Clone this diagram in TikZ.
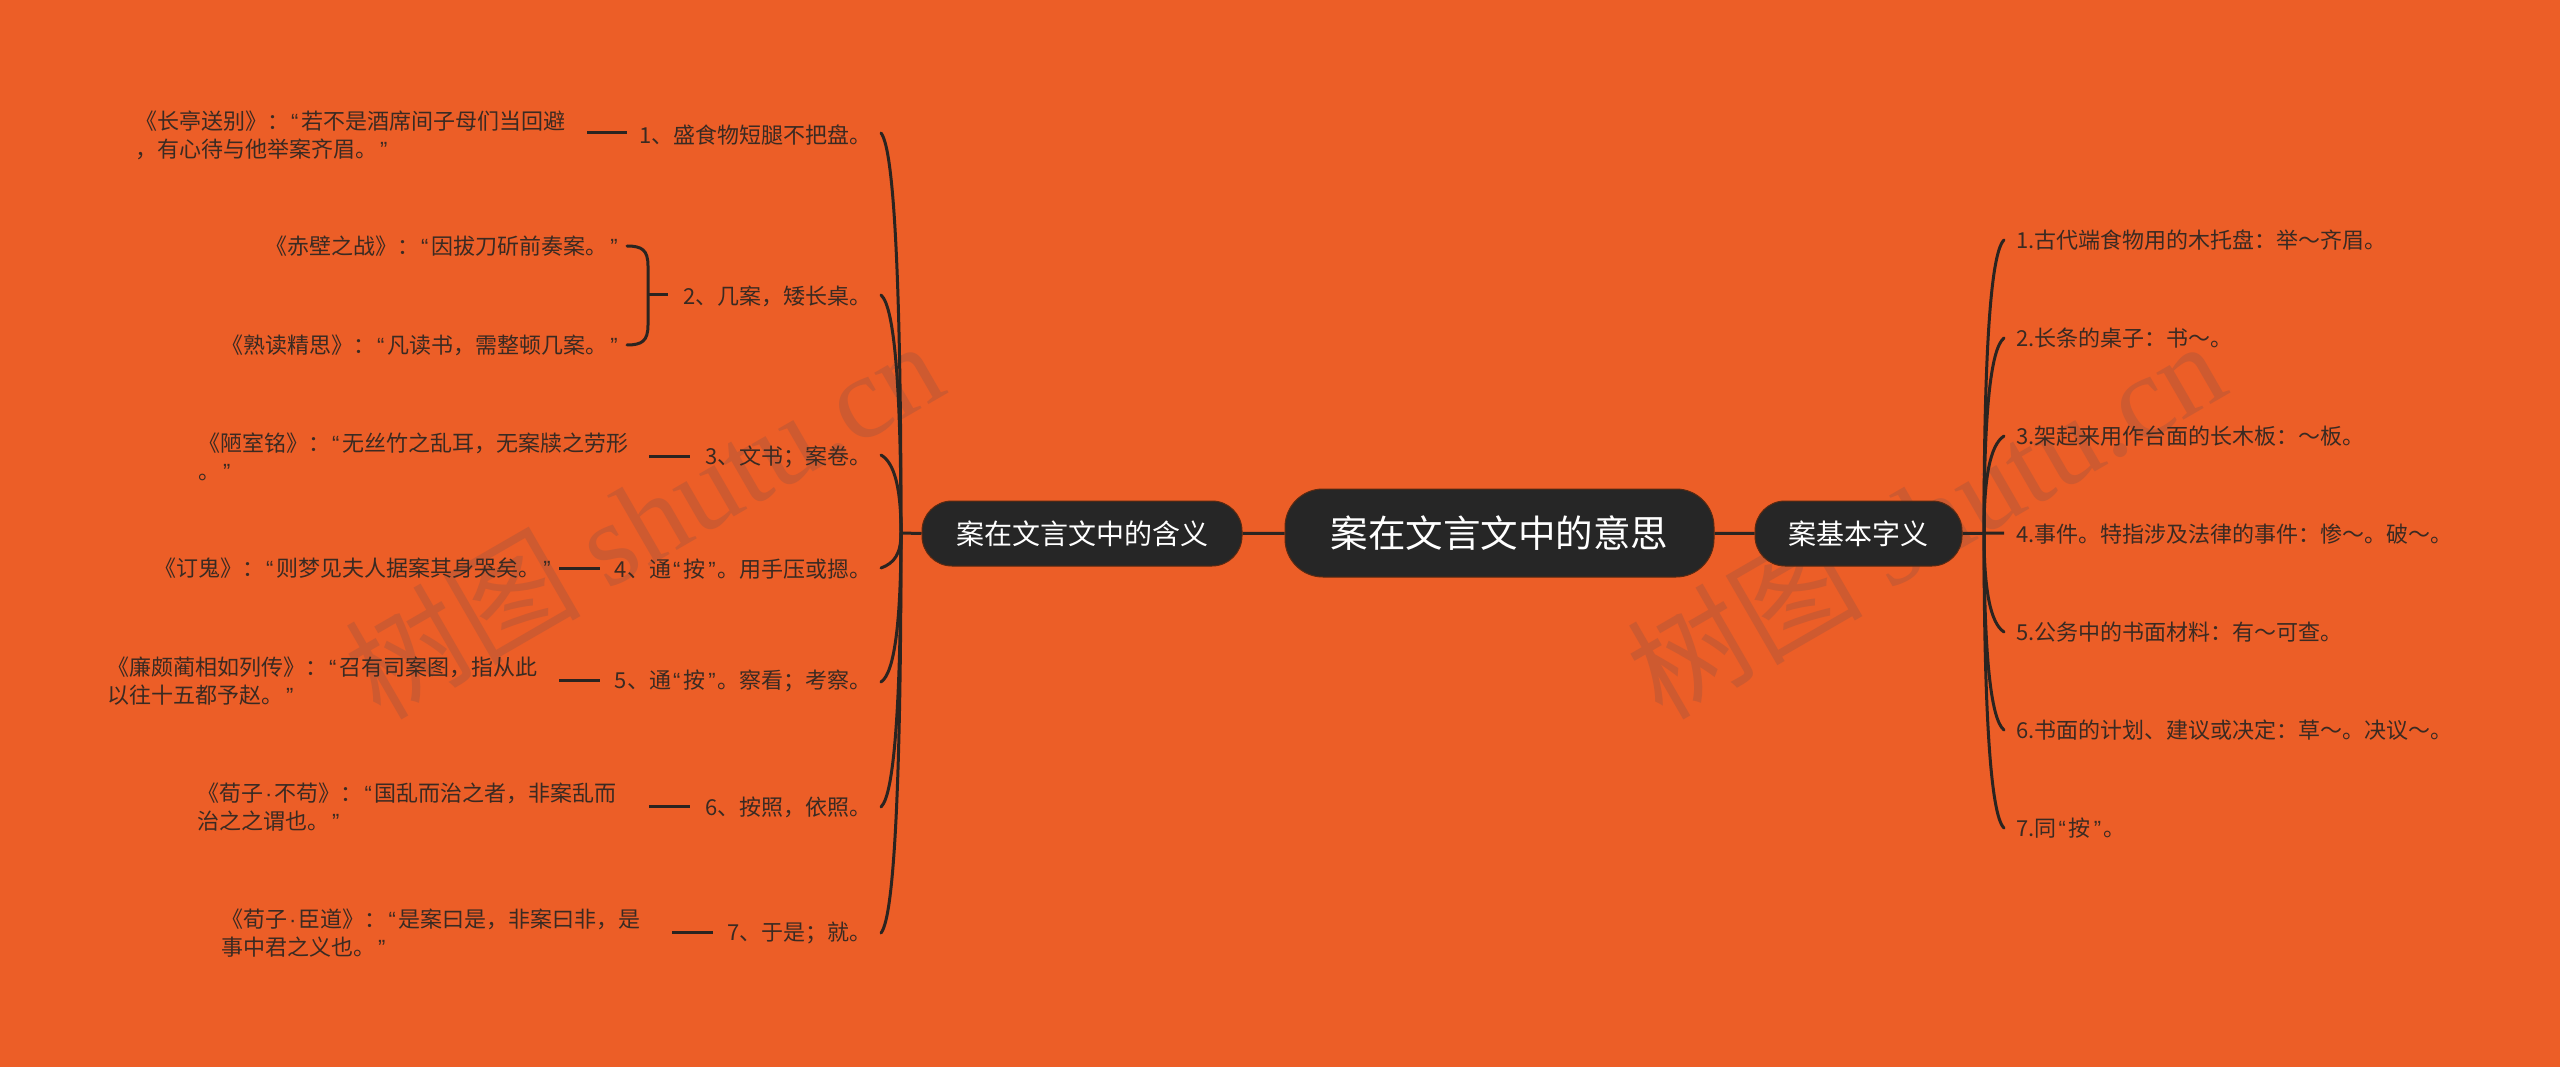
\documentclass[tikz,border=0pt]{standalone}
\usepackage{fontspec}
\setmainfont{Noto Sans CJK SC}
\newfontfamily\wmlatin{Liberation Serif}
\newfontfamily\punctfont{Liberation Sans}
\newcommand{\oq}{{\punctfont\kern2pt “\kern3pt}}
\newcommand{\cq}{{\punctfont\kern3pt ”\kern2pt}}
\newcommand{\mdot}{{\punctfont\kern2pt ·\kern2pt}}
\definecolor{bgc}{HTML}{EC5E27}
\definecolor{linec}{HTML}{2B2420}
\definecolor{txtc}{HTML}{3A2A22}
\definecolor{nodec}{HTML}{262626}
\definecolor{edgec}{HTML}{5A2A12}
\definecolor{wmc}{HTML}{CE5A30}
\tikzset{
  txt/.style={inner sep=0pt,text=txtc,align=left,font=\fontsize{22}{28}\selectfont},
  lnk/.style={draw=linec,line width=3pt,line cap=butt},
  curvelnk/.style={draw=linec,line width=3pt,line cap=round},
  pill/.style={fill=nodec,draw=edgec,line width=1pt,text=white,inner sep=0pt,align=center},
  wm/.style={text=wmc,inner sep=0pt,rotate=30}
}
\begin{document}
\begin{tikzpicture}[x=1pt,y=-1pt]
\useasboundingbox (0,0) rectangle (2560,1067);
\fill[bgc] (0,0) rectangle (2560,1067);
% watermarks
\node[wm] (wmL) at (643,518) {\fontsize{118}{118}\selectfont 树图 {\wmlatin shutu.cn}};
\node[wm] (wmR) at (1925,518) {\fontsize{118}{118}\selectfont 树图 {\wmlatin shutu.cn}};
% hubs and ends
\coordinate (LH) at (901,533);
\coordinate (RH) at (1984,533);
\foreach \n/\y in {1/133,2/295,3/455,4/568,5/682,6/807,7/933} \coordinate (L\n) at (881,\y);
\foreach \n/\y in {1/240,2/338,3/436,5/632,6/730,7/828} \coordinate (R\n) at (2004,\y);
\coordinate (R4) at (2004,533);
% central nodes
\node[pill,minimum width=429pt,minimum height=88pt,rounded corners=38pt,font=\fontsize{37.5}{40}\selectfont] (root) at (1499.5,533) {案在文言文中的意思};
\node[pill,minimum width=320pt,minimum height=65pt,rounded corners=30pt,font=\fontsize{28}{32}\selectfont] (lnode) at (1082,533.5) {案在文言文中的含义};
\node[pill,minimum width=207pt,minimum height=65pt,rounded corners=30pt,font=\fontsize{28}{32}\selectfont] (rnode) at (1858.5,533.5) {案基本字义};
\draw[lnk] (lnode) -- (root);
\draw[lnk] (root) -- (rnode);
\draw[lnk] (lnode.west) -- (LH);
\draw[lnk] (rnode.east) -- (R4);
% left curves
\draw[curvelnk] (L1) .. controls +(14,17) and +(0,-233) .. (LH);
\draw[curvelnk] (L2) .. controls +(14,12) and +(0,-140) .. (LH);
\draw[curvelnk] (L3) .. controls +(14,8) and +(0,-43) .. (LH);
\draw[curvelnk] (L4) .. controls +(14,-5) and +(0,20) .. (LH);
\draw[curvelnk] (L5) .. controls +(14,-9) and +(0,85) .. (LH);
\draw[curvelnk] (L6) .. controls +(14,-13) and +(0,160) .. (LH);
\draw[curvelnk] (L7) .. controls +(14,-17) and +(0,233) .. (LH);
% right curves
\draw[curvelnk] (R1) .. controls +(-14,13) and +(0,-170) .. (RH);
\draw[curvelnk] (R2) .. controls +(-14,11) and +(0,-115) .. (RH);
\draw[curvelnk] (R3) .. controls +(-14,9) and +(0,-55) .. (RH);
\draw[curvelnk] (R5) .. controls +(-14,-9) and +(0,55) .. (RH);
\draw[curvelnk] (R6) .. controls +(-14,-11) and +(0,115) .. (RH);
\draw[curvelnk] (R7) .. controls +(-14,-13) and +(0,170) .. (RH);
% left items
\node[txt,anchor=east] (i1) at (872,135) {1、盛食物短腿不把盘。};
\node[txt,anchor=east] (i2) at (872,296) {2、几案，矮长桌。};
\node[txt,anchor=east] (i3) at (872,457) {3、文书；案卷。};
\node[txt,anchor=east] (i4) at (872,569) {4、通\oq 按\cq。用手压或摁。};
\node[txt,anchor=east] (i5) at (872,681) {5、通\oq 按\cq。察看；考察。};
\node[txt,anchor=east] (i6) at (872,807) {6、按照，依照。};
\node[txt,anchor=east] (i7) at (872,933) {7、于是；就。};
% quotes
\node[txt,anchor=west] (q1) at (135,135) {《长亭送别》：\oq 若不是酒席间子母们当回避\\，有心待与他举案齐眉。\cq};
\node[txt,anchor=east] (q2a) at (620,246) {《赤壁之战》：\oq 因拔刀斫前奏案。\cq};
\node[txt,anchor=east] (q2b) at (620,345) {《熟读精思》：\oq 凡读书，需整顿几案。\cq};
\node[txt,anchor=west] (q3) at (198,457) {《陋室铭》：\oq 无丝竹之乱耳，无案牍之劳形\\。\cq};
\node[txt,anchor=east] (q4) at (553,568) {《订鬼》：\oq 则梦见夫人据案其身哭矣。\cq};
\node[txt,anchor=west] (q5) at (107,681) {《廉颇蔺相如列传》：\oq 召有司案图，指从此\\以往十五都予赵。\cq};
\node[txt,anchor=west] (q6) at (197,807) {《荀子\mdot 不苟》：\oq 国乱而治之者，非案乱而\\治之之谓也。\cq};
\node[txt,anchor=west] (q7) at (221,933) {《荀子\mdot 臣道》：\oq 是案曰是，非案曰非，是\\事中君之义也。\cq};
% stubs
\coordinate (s1) at (627,133); \coordinate (e1) at (587,133);
\draw[lnk] (e1) -- (s1);
\coordinate (s3) at (690,456); \coordinate (e3) at (649,456);
\draw[lnk] (e3) -- (s3);
\coordinate (s4) at (600,568); \coordinate (e4) at (559,568);
\draw[lnk] (e4) -- (s4);
\coordinate (s5) at (600,680); \coordinate (e5) at (559,680);
\draw[lnk] (e5) -- (s5);
\coordinate (s6) at (690,806); \coordinate (e6) at (649,806);
\draw[lnk] (e6) -- (s6);
\coordinate (s7) at (713,932); \coordinate (e7) at (672,932);
\draw[lnk] (e7) -- (s7);
% brace
\coordinate (bt) at (627,246); \coordinate (bb) at (627,345); \coordinate (bm) at (648,295); \coordinate (bs) at (668,295);
\draw[curvelnk] (bt) .. controls +(15,0) and +(0,-16) .. (648,266) -- (648,325) .. controls +(0,16) and +(15,0) .. (bb);
\draw[lnk] (bm) -- (bs);
% right items
\node[txt,anchor=west] (r1) at (2016,240) {1.古代端食物用的木托盘：举～齐眉。};
\node[txt,anchor=west] (r2) at (2016,338) {2.长条的桌子：书～。};
\node[txt,anchor=west] (r3) at (2016,436) {3.架起来用作台面的长木板：～板。};
\node[txt,anchor=west] (r4) at (2016,534) {4.事件。特指涉及法律的事件：惨～。破～。};
\node[txt,anchor=west] (r5) at (2016,632) {5.公务中的书面材料：有～可查。};
\node[txt,anchor=west] (r6) at (2016,730) {6.书面的计划、建议或决定：草～。决议～。};
\node[txt,anchor=west] (r7) at (2016,828) {7.同\oq 按\cq。};
\end{tikzpicture}
\end{document}
